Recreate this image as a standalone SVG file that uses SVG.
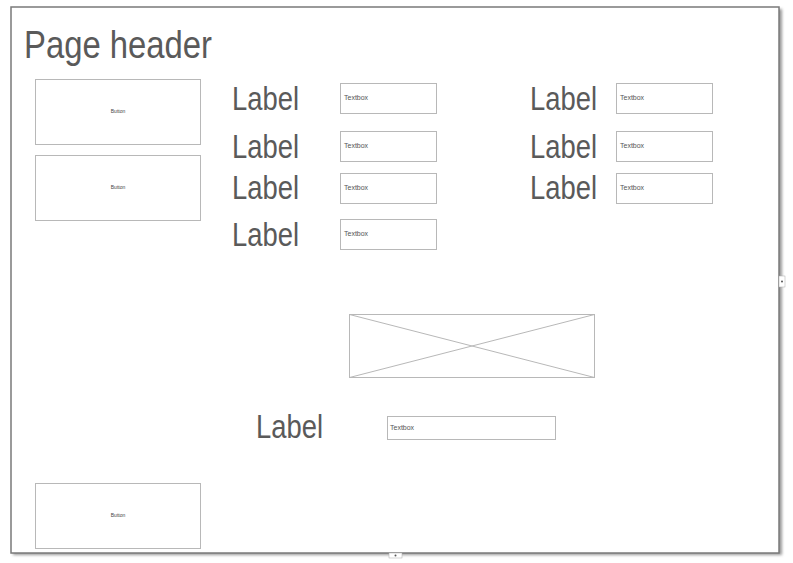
<svg xmlns="http://www.w3.org/2000/svg" width="793" height="563" viewBox="0 0 793 563">
<defs>
<filter id="sh" x="-5%" y="-5%" width="110%" height="110%"><feGaussianBlur stdDeviation="1.5"/></filter>
<style>
.lbl{font-family:"Liberation Sans",Arial,sans-serif;font-size:33px;fill:#5a5a5a}
.box{fill:#fff;stroke:#b8b8b8;stroke-width:1}
.tb{font-family:"Liberation Sans",Arial,sans-serif;font-size:7px;fill:#555}
.bt{font-family:"Liberation Sans",Arial,sans-serif;font-size:5px;fill:#444}
</style>
</defs>
<rect width="793" height="563" fill="#fff"/>
<g id="page">
<rect x="13" y="9" width="769" height="546" fill="#999" filter="url(#sh)"/>
<rect x="11" y="7" width="768" height="546" fill="#fff" stroke="#7a7a7a" stroke-width="1.5"/>
<rect x="779" y="276" width="6" height="11" fill="#fff" stroke="#aaa" stroke-width="0.5"/>
<circle cx="782" cy="281.5" r="1" fill="#555"/>
<rect x="389" y="553" width="13" height="5" fill="#fff" stroke="#aaa" stroke-width="0.5"/>
<circle cx="395.5" cy="555.5" r="1" fill="#555"/>
</g>
<g id="header"><text x="24" y="58" class="lbl" style="font-size:38px" textLength="188" lengthAdjust="spacingAndGlyphs">Page header</text></g>
<g id="button1"><rect class="box" x="35.5" y="79.5" width="165" height="65"/><text class="bt" x="118" y="113" text-anchor="middle">Button</text></g>
<g id="button2"><rect class="box" x="35.5" y="155.5" width="165" height="65"/><text class="bt" x="118" y="189" text-anchor="middle">Button</text></g>
<g id="button3"><rect class="box" x="35.5" y="483.5" width="165" height="65"/><text class="bt" x="118" y="517" text-anchor="middle">Button</text></g>
<g id="label1"><text class="lbl" x="232" y="110" textLength="67" lengthAdjust="spacingAndGlyphs">Label</text></g>
<g id="label2"><text class="lbl" x="232" y="158" textLength="67" lengthAdjust="spacingAndGlyphs">Label</text></g>
<g id="label3"><text class="lbl" x="232" y="199" textLength="67" lengthAdjust="spacingAndGlyphs">Label</text></g>
<g id="label4"><text class="lbl" x="232" y="246" textLength="67" lengthAdjust="spacingAndGlyphs">Label</text></g>
<g id="label5"><text class="lbl" x="530" y="110" textLength="67" lengthAdjust="spacingAndGlyphs">Label</text></g>
<g id="label6"><text class="lbl" x="530" y="158" textLength="67" lengthAdjust="spacingAndGlyphs">Label</text></g>
<g id="label7"><text class="lbl" x="530" y="199" textLength="67" lengthAdjust="spacingAndGlyphs">Label</text></g>
<g id="label8"><text class="lbl" x="256" y="438" textLength="67" lengthAdjust="spacingAndGlyphs">Label</text></g>
<g id="textbox1"><rect class="box" x="340.5" y="83.5" width="96" height="30"/><text class="tb" x="344" y="100">Textbox</text></g>
<g id="textbox2"><rect class="box" x="340.5" y="131.5" width="96" height="30"/><text class="tb" x="344" y="148">Textbox</text></g>
<g id="textbox3"><rect class="box" x="340.5" y="173.5" width="96" height="30"/><text class="tb" x="344" y="190">Textbox</text></g>
<g id="textbox4"><rect class="box" x="340.5" y="219.5" width="96" height="30"/><text class="tb" x="344" y="236">Textbox</text></g>
<g id="textbox5"><rect class="box" x="616.5" y="83.5" width="96" height="30"/><text class="tb" x="620" y="100">Textbox</text></g>
<g id="textbox6"><rect class="box" x="616.5" y="131.5" width="96" height="30"/><text class="tb" x="620" y="148">Textbox</text></g>
<g id="textbox7"><rect class="box" x="616.5" y="173.5" width="96" height="30"/><text class="tb" x="620" y="190">Textbox</text></g>
<g id="textbox8"><rect class="box" x="387.5" y="416.5" width="168" height="23"/><text class="tb" x="390" y="430">Textbox</text></g>
<g id="image"><rect class="box" x="349.5" y="314.5" width="245" height="63"/><path d="M349.5 314.5L594.5 377.5M349.5 377.5L594.5 314.5" stroke="#b8b8b8" fill="none"/></g>
</svg>
